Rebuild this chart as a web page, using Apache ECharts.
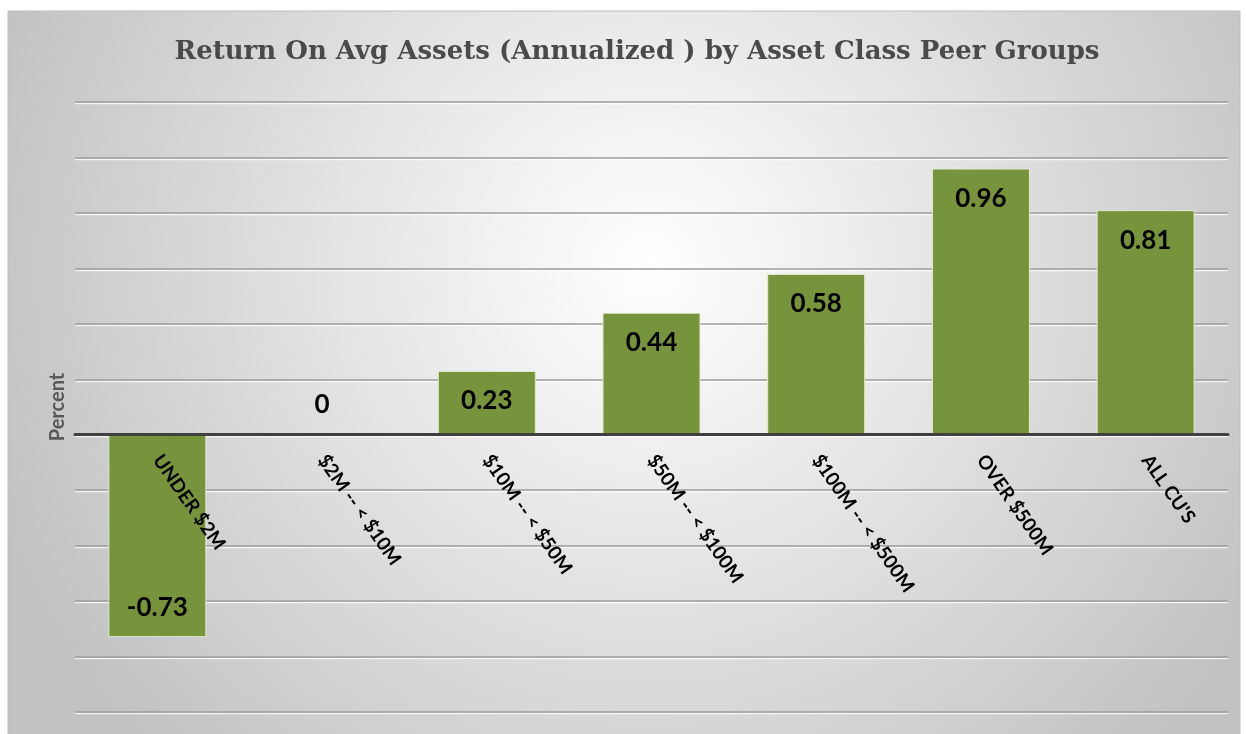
<!DOCTYPE html>
<html>
<head>
<meta charset="utf-8">
<script src="https://cdn.jsdelivr.net/npm/echarts@6/dist/echarts.min.js"></script>
<style>
  html, body { margin: 0; padding: 0; background: #fff; }
  #chart { width: 1246px; height: 734px; }
</style>
</head>
<body>
<div id="chart"></div>
<script>
// 资产分组
const categories = ['UNDER $2M', '$2M -- < $10M', '$10M -- < $50M', '$50M -- < $100M', '$100M -- < $500M', 'OVER $500M', "ALL CU'S"];
// 年化平均资产回报率
const values = [-0.73, 0, 0.23, 0.44, 0.58, 0.96, 0.81];
// 纵轴范围
const yMin = -1.0;
const yMax = 1.2;
const yStep = 0.2;

chart01();

function chart01() {
    var chartDom = document.getElementById('chart');
    var myChart = echarts.init(chartDom);
    var option;
    var gridTop = 102, gridBottom = 22;
    var plotH = 734 - gridTop - gridBottom;
    // 把横轴整体移到 0 的位置（标签跟着走）
    var axisOffset = -plotH * (0 - yMin) / (yMax - yMin);
    option = {
        animation: false,
        graphic: [
            {
                type: 'rect',
                z: -10,
                silent: true,
                shape: { x: 8, y: 11, width: 1232, height: 730 },
                style: {
                    fill: new echarts.graphic.RadialGradient(0.52, 0.35, 0.95, [
                        { offset: 0, color: '#ffffff' },
                        { offset: 1, color: '#c2c2c2' }
                    ]),
                    stroke: '#bdbdbd',
                    lineWidth: 1
                }
            }
        ],
        title: {
            text: 'Return On Avg Assets (Annualized ) by Asset Class Peer Groups',
            left: 632,
            top: 34,
            textAlign: 'center',
            textStyle: {
                fontFamily: 'DejaVu Serif',
                fontWeight: 'bold',
                fontSize: 26,
                color: '#4a4a4a'
            }
        },
        grid: {
            left: 75,
            right: 18,
            top: gridTop,
            bottom: gridBottom,
            outerBoundsMode: 'none'
        },
        xAxis: {
            type: 'category',
            data: categories,
            offset: axisOffset,
            axisLine: {
                onZero: false,
                lineStyle: { color: '#404040', width: 3 }
            },
            axisTick: { show: false },
            axisLabel: {
                rotate: -55,
                margin: 22,
                interval: 0,
                fontFamily: 'Lato',
                fontWeight: 'bold',
                fontSize: 19,
                color: '#000'
            },
            z: 10
        },
        yAxis: {
            type: 'value',
            min: yMin,
            max: yMax,
            interval: yStep,
            name: 'Percent',
            nameLocation: 'middle',
            nameRotate: 90,
            nameGap: 7,
            nameTextStyle: {
                fontFamily: 'Lato',
                fontWeight: 'bold',
                fontSize: 20,
                color: '#595959'
            },
            axisLine: { show: false },
            axisTick: { show: false },
            axisLabel: { show: false },
            splitLine: {
                lineStyle: {
                    color: '#9c9c9c',
                    width: 1.5,
                    shadowColor: 'rgba(255,255,255,0.8)',
                    shadowOffsetY: 1.5
                }
            }
        },
        series: [
            {
                type: 'bar',
                data: values.map(function (v) {
                    return {
                        value: v,
                        label: {
                            position: v < 0 ? 'insideBottom' : (v === 0 ? 'top' : 'insideTop'),
                            distance: 17
                        }
                    };
                }),
                barWidth: 98,
                itemStyle: {
                    color: '#77933c',
                    borderColor: '#e2ead2',
                    borderWidth: 1
                },
                label: {
                    show: true,
                    fontFamily: 'Lato',
                    fontWeight: 'bold',
                    fontSize: 26,
                    color: '#000'
                }
            }
        ]
    };

    option && myChart.setOption(option);
}
</script>
</body>
</html>
